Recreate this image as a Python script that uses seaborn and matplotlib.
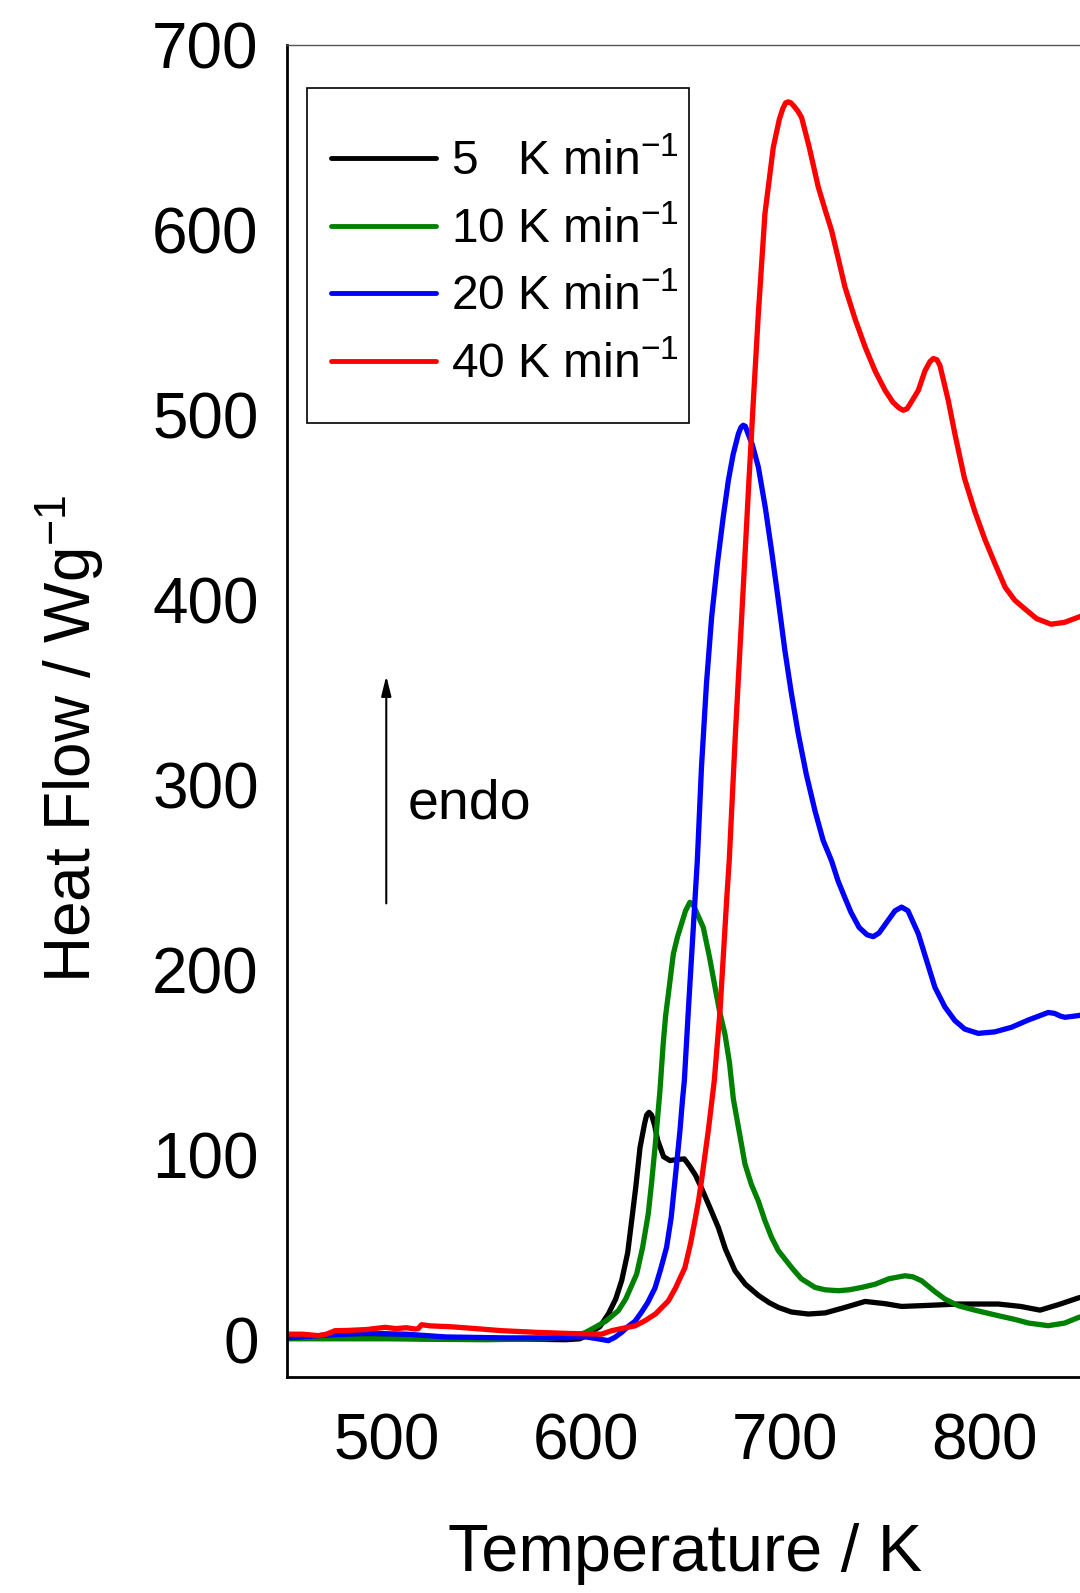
import numpy as np
import pandas as pd
import matplotlib
matplotlib.use("Agg")
import matplotlib.pyplot as plt
from matplotlib.patches import Rectangle
import seaborn as sns

# ---------------- data ----------------
T_5 = [450, 480, 520, 560, 590, 597, 600, 603, 607, 611.3, 615, 618, 621, 623, 625, 627.2,
       629.5, 630.5, 631.7, 633, 634.5, 636, 639, 642.2, 646, 649.4, 652, 655, 658, 662, 666.4, 670,
       674.8, 680, 686.5, 692, 696.5, 703, 711.5, 720, 730, 740, 750, 758.3, 770, 786.7,
       806.8, 818, 827.7, 837, 846.9, 850]
HF_5 = [1, 1.5, 0.5, 0.5, 0, 0.5, 2, 4.5, 7, 13.9, 22, 32, 47, 64.4, 82, 104,
        117, 121.5, 123, 121.5, 116, 108, 99, 96.9, 97.5, 97.8, 94, 89, 82, 72, 60.8, 49,
        37.3, 30, 24, 20, 17.5, 15, 13.9, 14.5, 17.5, 20.7, 19.5, 18, 18.5, 19.3,
        19.3, 18, 16, 19, 22.6, 23.5]

T_10 = [450, 500, 550, 580, 595, 600, 604.6, 610, 616.3, 620, 625.5, 628.5, 631.3, 633,
        634.7, 636, 637.2, 638.8, 640, 641.4, 643, 643.9, 646, 648, 650, 652.2, 654, 656,
        658.9, 662, 664.8, 667, 669.8, 672, 674, 676, 679.8, 683, 686.5, 689.8, 693.1,
        696.5, 703.2, 708, 714.9, 720, 726.6, 732, 738.3, 745, 752, 760, 764, 768.3, 775,
        780, 786.7, 795, 806.8, 815, 822, 831.8, 840, 846.9, 850]
HF_10 = [0.5, 0.5, 0, 0.5, 2, 4, 6.7, 10, 15.7, 22, 35.5, 50, 68, 85,
         104, 120, 135, 160, 175, 187, 201, 208.7, 218, 225, 232, 236.6, 235, 230,
         223, 207, 190.6, 178, 165, 150, 130, 118, 95, 84, 75, 64.4, 55.4,
         48.2, 39, 33, 28.3, 27, 26.5, 27, 28.3, 30, 33, 34.6, 34, 31.9, 26,
         22, 18.4, 16, 13, 11, 9, 7.6, 9, 12, 13]

T_20 = [450, 470, 490, 510, 530, 560, 590, 600, 606, 611.3, 614.6, 618, 621, 624.7, 628,
        631, 634.7, 637.5, 640.5, 642.8, 644.7, 646, 647.2, 648.5, 649.4, 651.4, 653.9,
        655.9, 658, 660.5, 663.1, 666, 668.9, 671.5, 673.9, 676.5, 677.8, 678.9, 680, 681, 683.5,
        686.5, 690, 693.1, 696.5, 699.8, 703, 706.5, 710.5, 714.9, 719, 723.2, 726.5,
        729.9, 733, 737, 741, 744.1, 747, 751, 755, 758.3, 761.5, 764, 766.7, 770, 775,
        780, 785, 790, 796.7, 805, 813.4, 822, 831.8, 835, 838, 840.2, 846.9, 850]
HF_20 = [1, 2.5, 3.5, 3, 1.5, 1, 1, 1.5, 0.5, -0.5, 1.3, 4, 7, 10, 15,
         20, 28, 38, 50, 66, 86, 100, 113, 130, 140, 178, 223,
         259, 309.7, 355, 391, 420, 445, 465, 479, 490, 493.5, 494.6, 494, 491, 484,
         472, 450, 427, 400, 372.8, 350, 327.8, 306, 286, 270, 259, 248,
         239, 231, 223, 219, 218, 220, 226, 232, 234, 232, 226, 219.5, 208, 190.6,
         180, 172.6, 168, 165.7, 166.5, 169, 173, 177, 176.5, 175, 174.4, 175.3, 176]

T_40 = [450, 458, 466, 470, 474.3, 480, 490, 499.3, 505, 510, 514.4, 516, 517.7, 522,
        532.7, 545, 557.8, 575, 591.2, 607.9, 613, 620, 624.7, 629.7, 635, 641.4, 645,
        649.7, 652.5, 654.7, 656.5, 658, 661.4, 664.4, 667.3, 669.8, 670.6, 671.9, 675,
        678.6, 681.7, 684, 686.5, 689.8, 694, 697, 698.8, 700.2, 701.5, 702.8, 704.5, 706.3,
        708.2, 712, 716.5, 720,
        723.2, 726.5, 729.9, 735, 740, 745, 750, 754, 757, 759.1, 761, 762.5, 766.7, 770,
        772.5, 774.2, 776, 777.5, 781.7, 785, 789.8, 795, 800, 805, 810.2, 815, 820.4,
        826, 833.2, 840, 847.4, 850]
HF_40 = [3, 3, 2.2, 3, 4.9, 5, 5.5, 6.7, 6, 6.5, 5.8, 6, 8.1, 7.5,
         7, 6, 4.9, 4, 3.4, 3, 4.9, 6.5, 7.5, 10.3, 14, 21, 28,
         39, 52, 64.4, 75, 86, 113, 140, 178, 223, 237.6, 259, 327.8,
         400, 463, 508, 555, 609, 645, 660, 666, 669, 669.5, 669, 667, 664.5,
         661, 645, 623.6, 611,
         600, 585, 569.4, 552, 537, 524, 513.5, 507, 504, 502.7, 503.5, 506, 513.5, 524,
         529, 530.7, 530, 527, 508, 490, 466, 448, 433, 420, 407, 400, 395,
         390, 387, 388, 391, 392]

rates = ["5   K min$^{-1}$", "10 K min$^{-1}$", "20 K min$^{-1}$", "40 K min$^{-1}$"]
colors = ["#000000", "#008000", "#0000FF", "#FF0000"]

x_ticks = [500, 600, 700, 800]
y_ticks = [0, 100, 200, 300, 400, 500, 600, 700]

# ---------------- build table ----------------
frames = []
for lab, T, H in zip(rates, [T_5, T_10, T_20, T_40], [HF_5, HF_10, HF_20, HF_40]):
    frames.append(pd.DataFrame({"T": T, "HF": H, "rate": lab}))
df = pd.concat(frames, ignore_index=True)

# ---------------- style ----------------
sns.set_style("white")
plt.rcParams["font.family"] = ["Liberation Sans", "DejaVu Sans"]
plt.rcParams["mathtext.fontset"] = "custom"
plt.rcParams["mathtext.rm"] = "Liberation Sans"
plt.rcParams["mathtext.it"] = "Liberation Sans:italic"
plt.rcParams["mathtext.bf"] = "Liberation Sans:bold"
plt.rcParams["mathtext.default"] = "regular"
for k in ["text.color", "axes.labelcolor", "xtick.color", "ytick.color", "axes.edgecolor"]:
    plt.rcParams[k] = "black"

fig = plt.figure(figsize=(10.8, 15.93), dpi=100)
ax = fig.add_axes([0.2653, 0.13578, 0.7389, 0.83566])

sns.lineplot(data=df, x="T", y="HF", hue="rate", hue_order=rates,
             palette=dict(zip(rates, colors)), sort=False, estimator=None,
             linewidth=3.8, ax=ax)
for ln in ax.get_lines():
    ln.set_solid_joinstyle("round")
    ln.set_solid_capstyle("round")

ax.set_xlim(450, 850)
ax.set_ylim(-20, 700)
ax.set_xticks(x_ticks)
ax.set_yticks(y_ticks)
ax.set_xticks(np.arange(450, 851, 50), minor=True)
ax.set_yticks(np.arange(0, 701, 50), minor=True)

ax.tick_params(axis="both", which="major", direction="out", length=12, width=2.2,
               labelsize=46, top=False, right=False)
ax.tick_params(axis="x", which="major", pad=14)
ax.tick_params(axis="y", which="major", pad=8)
ax.tick_params(which="minor", direction="out", length=6, width=2,
               top=False, right=False)

for s in ["left", "bottom"]:
    ax.spines[s].set_linewidth(2)
    ax.spines[s].set_color("black")
ax.spines["top"].set_linewidth(1)
ax.spines["top"].set_color("#555555")
ax.spines["right"].set_visible(False)

ax.set_xlabel("Temperature / K", fontsize=48)
ax.set_ylabel("Heat Flow / Wg$^{-1}$", fontsize=46)
ax.xaxis.set_label_coords(0.5, -0.110)
ax.yaxis.set_label_coords(-0.226, 0.479)

# legend (frame drawn as a separate rectangle)
handles, labels = ax.get_legend_handles_labels()
leg = ax.legend(handles=handles, labels=labels, loc="upper left",
                bbox_to_anchor=(0.0558, 0.9292), borderaxespad=0, borderpad=0,
                fontsize=34.5, frameon=False, handlelength=2.2, handletextpad=0.3,
                labelspacing=0.465)
for h in leg.get_lines():
    h.set_linewidth(3.5)
ax.add_patch(Rectangle((0.0257, 0.7164), 0.4787, 0.2517, transform=ax.transAxes,
                       fill=False, edgecolor="black", linewidth=1.2, zorder=5))

# endo arrow
ax.annotate("", xy=(500, 359), xytext=(500, 236),
            arrowprops=dict(arrowstyle="-|>,head_length=0.6,head_width=0.15",
                            lw=1.5, color="black", mutation_scale=20,
                            shrinkA=0, shrinkB=0))
ax.text(510.5, 281.8, "endo", fontsize=40, ha="left", va="baseline")

fig.savefig("out.png", dpi=100)
